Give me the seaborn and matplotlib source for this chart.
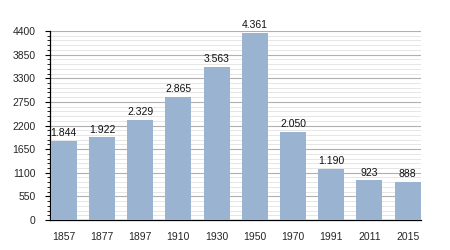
import matplotlib
matplotlib.use("Agg")
import matplotlib.pyplot as plt
import seaborn as sns
import pandas as pd
from matplotlib.ticker import MultipleLocator

years = ["1857", "1877", "1897", "1910", "1930", "1950", "1970", "1991", "2011", "2015"]
population = [1844, 1922, 2329, 2865, 3563, 4361, 2050, 1190, 923, 888]
labels = ["1.844", "1.922", "2.329", "2.865", "3.563", "4.361", "2.050", "1.190", "923", "888"]

df = pd.DataFrame({"year": years, "pop": population})

sns.set_theme(style="white")
plt.rcParams['font.family'] = ['Liberation Sans', 'DejaVu Sans']

fig = plt.figure(figsize=(4.5, 2.5), dpi=100)
ax = fig.add_axes([50/450, 30/250, 371/450, 189/250])

sns.barplot(data=df, x="year", y="pop", color="#9ab3d0", saturation=1, width=0.68,
            linewidth=0, ax=ax, zorder=3)

ax.set_ylim(0, 4400)
ax.yaxis.set_major_locator(MultipleLocator(550))
ax.yaxis.set_minor_locator(MultipleLocator(110))
ax.grid(axis="y", which="major", color="#b0b0b0", linewidth=0.8, zorder=0)
ax.grid(axis="y", which="minor", color="#e2e2e2", linewidth=0.6, zorder=0)
ax.set_axisbelow(True)
ax.set_xlim(-0.36, len(years) - 0.65)

for s in ["top", "right"]:
    ax.spines[s].set_visible(False)
for s in ["left", "bottom"]:
    ax.spines[s].set_color("black")
    ax.spines[s].set_linewidth(0.9)

ax.tick_params(axis="y", which="major", left=True, length=3.5, width=0.8, color="black", labelsize=7.5, pad=7)
ax.tick_params(axis="y", which="minor", left=True, length=2, width=0.6, color="black")
ax.tick_params(axis="x", bottom=False, labelsize=7.5, pad=3)
ax.set_xlabel("")
ax.set_ylabel("")

for i, (v, t) in enumerate(zip(population, labels)):
    ax.text(i, v + 60, t, ha="center", va="bottom", fontsize=7.5, color="#111111")

fig.savefig("out.png", dpi=100)
